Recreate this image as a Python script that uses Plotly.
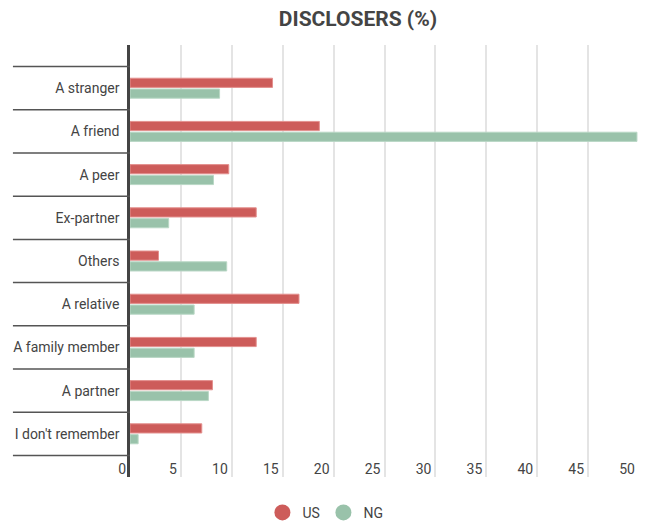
import plotly.graph_objects as go

categories = ["A stranger", "A friend", "A peer", "Ex-partner", "Others",
              "A relative", "A family member", "A partner", "I don't remember"]
us_values = [14.0, 18.6, 9.7, 12.4, 2.8, 16.6, 12.4, 8.1, 7.05]
ng_values = [8.8, 49.8, 8.2, 3.8, 9.5, 6.3, 6.3, 7.7, 0.8]
x_ticks = [0, 5, 10, 15, 20, 25, 30, 35, 40, 45, 50]

RED = "#cd5c5a"
RED_EDGE = "#e3908e"
GREEN = "#99c2aa"
GREEN_EDGE = "#b9d7c5"
TEXT = "#444444"
FONT = "Roboto"

fig = go.Figure()
fig.add_trace(go.Bar(y=categories, x=us_values, orientation="h", name="US",
                     marker=dict(color=RED, line=dict(color=RED_EDGE, width=1)),
                     showlegend=False))
fig.add_trace(go.Bar(y=categories, x=ng_values, orientation="h", name="NG",
                     marker=dict(color=GREEN, line=dict(color=GREEN_EDGE, width=1)),
                     showlegend=False))
# legend entries as circles
fig.add_trace(go.Scatter(x=[None], y=[None], mode="markers", name="US",
                         marker=dict(color=RED, size=17, symbol="circle")))
fig.add_trace(go.Scatter(x=[None], y=[None], mode="markers", name="NG",
                         marker=dict(color=GREEN, size=17, symbol="circle")))

n = len(categories)
for i in range(n + 1):
    fig.add_shape(type="line", xref="paper", yref="y",
                  x0=-0.23, x1=0, y0=i - 0.5, y1=i - 0.5,
                  line=dict(color="#555555", width=1.5), layer="above")

fig.update_layout(
    width=645, height=521,
    margin=dict(l=130, r=6, t=45, b=44, autoexpand=False),
    paper_bgcolor="white", plot_bgcolor="white",
    font=dict(family=FONT, size=14, color=TEXT),
    title=dict(text="<b>DISCLOSERS (%)</b>", font=dict(family=FONT, size=21, color=TEXT),
               xref="container", x=0.555, xanchor="center",
               yref="container", y=1 - 19 / 521, yanchor="middle"),
    barmode="group", bargap=0.5, bargroupgap=0.15,
    legend=dict(orientation="h", x=0.38, xanchor="center", y=-0.083, yanchor="middle",
                entrywidth=16, entrywidthmode="pixels",
                font=dict(family=FONT, size=14, color=TEXT)),
    showlegend=True,
)
fig.update_xaxes(range=[0, 50], tickvals=x_ticks, showgrid=True,
                 gridcolor="#e4e4e4", gridwidth=1.5, zeroline=False, automargin=False,
                 ticks="", ticklabelposition="inside left", ticklabeloverflow="allow",
                 ticklabelstandoff=-6, ticklabelshift=-4,
                 tickfont=dict(family=FONT, size=14, color=TEXT), showline=False)
fig.update_yaxes(type="category", categoryorder="array", categoryarray=categories,
                 range=[n, -1], showgrid=False, zeroline=False, ticks="", automargin=False,
                 showline=True, linecolor="#444444", linewidth=2.5,
                 ticklabelstandoff=5,
                 tickfont=dict(family=FONT, size=14, color=TEXT))

fig.write_html("out.html", config={"displayModeBar": False},
               post_script="document.body.style.margin='0';document.body.style.padding='0';")
